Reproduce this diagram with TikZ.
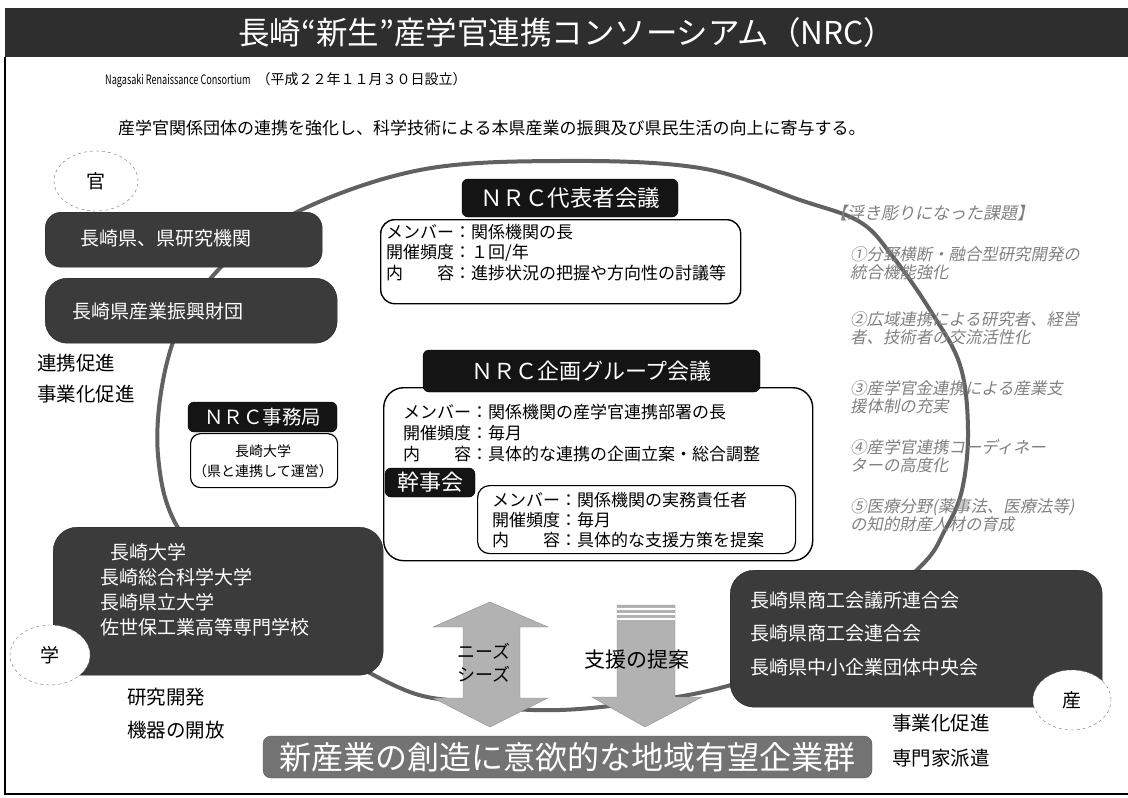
\documentclass[tikz,border=0pt]{standalone}
\usepackage{fontspec}
\setmainfont{Noto Sans CJK JP}
\newfontfamily\slantjp[FakeSlant=0.2]{Noto Sans CJK JP}
\newfontfamily\narrowjp[FakeStretch=0.7]{Noto Sans CJK JP}
\usepackage{tikz}
\usetikzlibrary{shapes.geometric,positioning}
\newcommand{\fsz}[2]{\fontsize{#1}{#2}\selectfont}

\begin{document}
\begin{tikzpicture}[x=1pt, y=-1pt,
    darkbox/.style={draw=black!85, fill=black!77, rounded corners=16, inner sep=0, anchor=north west},
    infobox/.style={draw=black, line width=1.4, fill=white, rounded corners=14, inner sep=0, anchor=north west},
    tagbox/.style={draw=black, fill=black!92, rounded corners=6, text=white, inner sep=0},
    rolecircle/.style={ellipse, draw=black!55, dashed, fill=white, inner sep=0,
        minimum width=84, minimum height=60, font=\fsz{19}{19}},
    boxtxt/.style={text=white, anchor=west, align=left, inner sep=0, font=\fsz{19}{25}},
    infotxt/.style={anchor=west, align=left, inner sep=0, font=\fsz{17}{20.5}},
    sidetxt/.style={anchor=west, inner sep=0, font=\fsz{19.5}{20}},
    issuetxt/.style={anchor=west, align=left, inner sep=0, text=black!50, font=\slantjp\fsz{16.4}{18}},
    ringline/.style={draw=black!62, line width=4},
    blockarrow/.style={draw=black!45, fill=black!30}
]
    \useasboundingbox (0,0) rectangle (1128,798);

    % Title bar and frame
    \node[fill=black!82, minimum width=1123, minimum height=49, anchor=north west, inner sep=0,
        text=white, font=\fsz{31.5}{32}] (title) at (5,8) {長崎“新生”産学官連携コンソーシアム（NRC）};
    \draw[line width=1.5] (title.south west) |- (1128,794);
    \node[anchor=west, inner sep=0, font=\narrowjp\fsz{13}{14}] (subtitle) at (105,80)
        {Nagasaki Renaissance Consortium\ \ \ {\rmfamily\fsz{14}{14}（平成２２年１１月３０日設立）}};
    \node[anchor=west, inner sep=0, font=\fsz{17}{17}] (aim) at (118,128)
        {産学官関係団体の連携を強化し、科学技術による本県産業の振興及び県民生活の向上に寄与する。};

    % Ring linking the three sides
    \draw[ringline] plot[smooth cycle, tension=0.6] coordinates {
        (560,161) (700,168) (800,200) (860,222) (893,257) (930,310) (960,365) (968,430)
        (962,490) (945,530) (917,570) (820,650) (720,688) (610,706) (533,710) (463,702)
        (400,688) (300,630) (190,545) (158,455) (172,345) (220,268) (297,212) (420,170)};

    % Government side
    \node[darkbox, minimum width=277, minimum height=55] (gov) at (45,212) {};
    \node[darkbox, minimum width=292, minimum height=65, rounded corners=22] (fund) at (45,278) {};
    \node[boxtxt] (govtxt) at (80,238) {長崎県、県研究機関};
    \node[boxtxt] (fundtxt) at (72,311) {長崎県産業振興財団};
    \node[rolecircle] (kan) at (96,181) {官};
    \node[sidetxt] (renkei) at (37,363) {連携促進};
    \node[sidetxt] (jigyo) at (37,394) {事業化促進};

    % Academia side
    \node[darkbox, minimum width=330, minimum height=148, rounded corners=24] (aca) at (53,527) {};
    \node[boxtxt, font=\fsz{19}{25}] (acatxt) at (100,590)
        {\hspace*{10pt}長崎大学\\長崎総合科学大学\\長崎県立大学\\佐世保工業高等専門学校};
    \node[rolecircle, minimum width=80] (gaku) at (50,655) {学};
    \node[sidetxt] (kenkyu) at (127,697) {研究開発};
    \node[sidetxt] (kiki) at (127,730) {機器の開放};

    % Industry side
    \node[darkbox, minimum width=372, minimum height=137, rounded corners=24] (ind) at (730,570) {};
    \node[boxtxt, font=\fsz{19}{33.5}] (indtxt) at (750,633.5)
        {長崎県商工会議所連合会\\長崎県商工会連合会\\長崎県中小企業団体中央会};
    \node[rolecircle, minimum width=78] (san) at (1072,700) {産};
    \node[sidetxt] (jigyo2) at (892,723) {事業化促進};
    \node[sidetxt] (haken) at (892,758) {専門家派遣};

    % NRC office
    \node[infobox, minimum width=147, minimum height=54, rounded corners=10, line width=1.2] (office) at (190,433) {};
    \node[tagbox, minimum width=149, minimum height=30, font=\fsz{19.5}{20}] (officetag) at (262.5,417) {ＮＲＣ事務局};
    \node[align=center, inner sep=0, font=\fsz{14}{20}] (officetxt) at (263,461) {長崎大学\\（県と連携して運営）};

    % Representatives meeting
    \node[infobox, minimum width=360, minimum height=84] (rep) at (380,219) {};
    \node[tagbox, minimum width=216, minimum height=38, font=\fsz{22.5}{23}] (reptag) at (570,198) {ＮＲＣ代表者会議};
    \node[infotxt] (reptxt) at (386,252.5)
        {メンバー：関係機関の長\\開催頻度：１回/年\\内　　容：進捗状況の把握や方向性の討議等};

    % Planning group meeting
    \node[infobox, minimum width=429, minimum height=173, rounded corners=20] (plan) at (383,387) {};
    \node[tagbox, minimum width=337, minimum height=42, font=\fsz{22}{22}] (plantag) at (591.5,371) {ＮＲＣ企画グループ会議};
    \node[infotxt, font=\fsz{17}{21}] (plantxt) at (403,433)
        {メンバー：関係機関の産学官連携部署の長\\開催頻度：毎月\\内　　容：具体的な連携の企画立案・総合調整};
    \node[tagbox, minimum width=90, minimum height=29, font=\fsz{22}{22}] (kanjitag) at (430,482.5) {幹事会};
    \node[infobox, minimum width=318, minimum height=68, rounded corners=12, line width=1.2] (kanji) at (477,485) {};
    \node[infotxt, font=\fsz{17}{20}] (kanjitxt) at (492,520)
        {メンバー：関係機関の実務責任者\\開催頻度：毎月\\内　　容：具体的な支援方策を提案};

    % Issues list
    \node[issuetxt, font=\slantjp\fsz{17}{18}] (issuehead) at (830,213) {【浮き彫りになった課題】};
    \foreach \yy/\txt in {263.5/{①分野横断・融合型研究開発の\\統合機能強化},
                          328/{②広域連携による研究者、経営\\者、技術者の交流活性化},
                          397.5/{③産学官金連携による産業支\\援体制の充実},
                          456.5/{④産学官連携コーディネー\\ターの高度化},
                          515/{⑤医療分野(薬事法、医療法等)\\の知的財産人材の育成}} {
        \node[issuetxt] at (850,\yy) {\txt};
    }

    % Block arrows
    \fill[blockarrow] (490,602) -- (548,627) -- (520,627) -- (520,698) -- (548,698) -- (490,727)
        -- (433,698) -- (463,698) -- (463,627) -- (433,627) -- cycle;
    \fill[blockarrow] (617,605) -- (675,605) -- (675,697) -- (702,697) -- (645,727) -- (592,697)
        -- (617,697) -- cycle;
    \foreach \yy in {609,614,619} {
        \draw[white, line width=1.6] (617,\yy) -- (675,\yy);
    }
    \node[align=center, inner sep=0, font=\fsz{18}{23}] (needs) at (484,663) {ニーズ\\シーズ};
    \node[inner sep=0, font=\fsz{21}{21}] (support) at (637,660) {支援の提案};

    % Bottom banner
    \node[draw=black!65, fill=black!55, rounded corners=8, minimum width=609, minimum height=42,
        inner sep=0, text=white, font=\fsz{32}{32}] (banner) at (567.5,757) {新産業の創造に意欲的な地域有望企業群};
\end{tikzpicture}
\end{document}
